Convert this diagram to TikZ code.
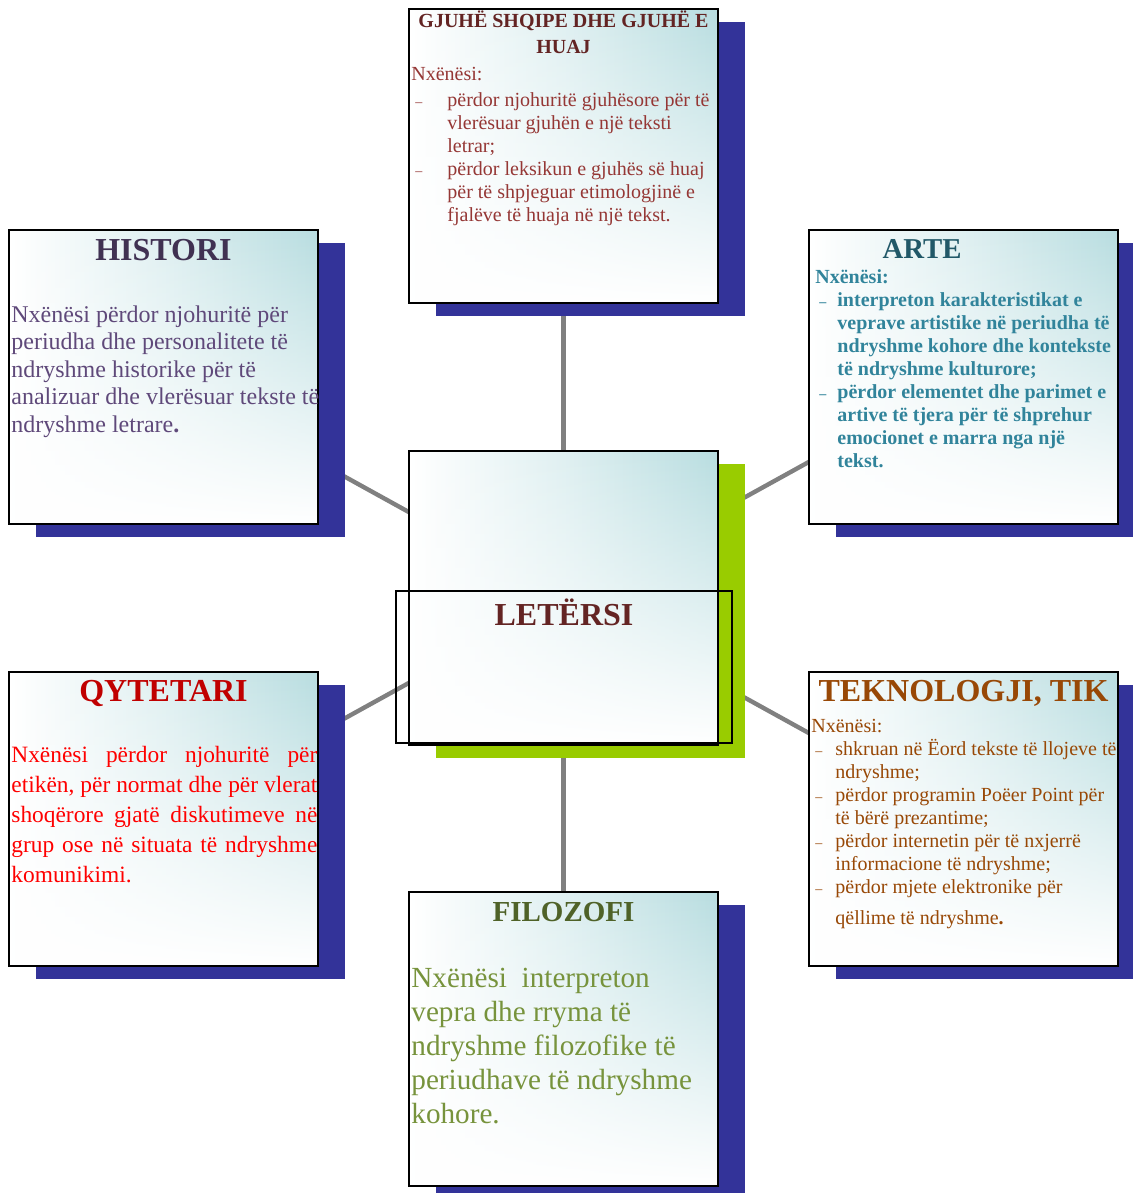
\documentclass[tikz,border=0pt]{standalone}
\usepackage{fontspec}
\setmainfont{Liberation Serif}
\usetikzlibrary{shadows,backgrounds,positioning,fadings}

\definecolor{shblue}{RGB}{51,51,153}
\definecolor{limeg}{RGB}{153,204,0}
\definecolor{boxteal}{RGB}{184,221,224}
\definecolor{conngray}{RGB}{128,128,128}
\definecolor{histT}{HTML}{403152}
\definecolor{histB}{HTML}{5F497A}
\definecolor{gjT}{HTML}{632423}
\definecolor{gjB}{HTML}{953735}
\definecolor{arteT}{HTML}{215868}
\definecolor{arteB}{HTML}{31849B}
\definecolor{qytT}{HTML}{C00000}
\definecolor{qytB}{HTML}{FF0000}
\definecolor{tekT}{HTML}{984806}
\definecolor{filoT}{HTML}{4F6228}
\definecolor{filoB}{HTML}{77933C}

\tikzfading[name=lowwhite,top color=transparent!100,middle color=transparent!80,bottom color=transparent!0]

\newcommand{\setfs}[2]{\fontsize{#1}{#2}\selectfont}
\newcommand{\dashitem}[1]{\makebox[#1][l]{\hspace{2pt}{\scriptsize\textendash}}}
\newcommand{\dashgap}[1]{\hspace*{#1}}
% first line of the box sits on the node's base
\newcommand{\leftlines}[1]{\parbox[t]{170pt}{\raggedright #1}}
\newcommand{\justlines}[1]{\parbox[t]{153pt}{#1}}

\begin{document}
\begin{tikzpicture}[x=0.5pt,y=-0.5pt,
	box/.style={draw,line width=1pt,minimum width=154.5pt,minimum height=147pt,inner sep=0pt,
		left color=white,right color=boxteal,middle color=boxteal!45,
		path picture={\fill[white,path fading=lowwhite] (path picture bounding box.south west) rectangle (path picture bounding box.north east);},
		drop shadow={shadow xshift=13.5pt,shadow yshift=-6.5pt,fill=#1,opacity=1}},
	box/.default=shblue,
	conn/.style={conngray,line width=2.2pt},
	ttl/.style={anchor=base,inner sep=0pt,font=\bfseries\setfs{#1}{13pt}},
	txt/.style={anchor=base west,inner sep=0pt}]
	\useasboundingbox (0,0) rectangle (1133,1193);
	
	% boxes
	\node[box] (gj) at (563.5,156) {};
	\node[box] (hist) at (163.5,376.5) {};
	\node[box] (arte) at (963.5,376.5) {};
	\node[box=limeg] (let) at (563.5,597.5) {};
	\node[box] (qyt) at (163.5,818.5) {};
	\node[box] (tek) at (963.5,818.5) {};
	\node[box] (filo) at (563.5,1039) {};
	\node[draw,line width=1pt,minimum width=168pt,minimum height=76pt] (letframe) at (564,667) {};
	
	% connectors
	\begin{scope}[on background layer]
		\foreach \n in {gj,hist,arte,qyt,tek,filo}
			\draw[conn] (let.center) -- (\n.center);
	\end{scope}
	
	% center
	\node[ttl=16,text=gjT] (letttl) at (564,625) {LETËRSI};
	
	% gjuhe
	\node[ttl=10,text=gjT] (gjttl) at (563.5,28) {\parbox[t]{160pt}{\centering GJUHË SHQIPE DHE GJUHË E\\HUAJ}};
	\node[txt,text=gjB,font=\setfs{10}{11.5pt}] (gjtxt) at (411,81) {\leftlines{Nxënësi:\\[1.5pt]
		\dashitem{18pt}përdor njohuritë gjuhësore për të\\
		\dashgap{18pt}vlerësuar gjuhën e një teksti\\
		\dashgap{18pt}letrar;\\
		\dashitem{18pt}përdor leksikun e gjuhës së huaj\\
		\dashgap{18pt}për të shpjeguar etimologjinë e\\
		\dashgap{18pt}fjalëve të huaja në një tekst.}};
	
	% histori
	\node[ttl=16,text=histT] (histttl) at (163.5,260) {HISTORI};
	\node[txt,text=histB,font=\setfs{12}{13.75pt}] (histtxt) at (11,322) {\leftlines{Nxënësi përdor njohuritë për\\
		periudha dhe personalitete të\\
		ndryshme historike për të\\
		analizuar dhe vlerësuar tekste të\\
		ndryshme letrare\textbf{.}}};
	
	% arte
	\node[ttl=14.4,text=arteT] (artettl) at (922,258) {ARTE};
	\node[txt,text=arteB,font=\bfseries\setfs{10}{11.5pt}] (artetxt) at (815,283) {\leftlines{Nxënësi:\\
		\dashitem{11pt}interpreton karakteristikat e\\
		\dashgap{11pt}veprave artistike në periudha të\\
		\dashgap{11pt}ndryshme kohore dhe kontekste\\
		\dashgap{11pt}të ndryshme kulturore;\\
		\dashitem{11pt}përdor elementet dhe parimet e\\
		\dashgap{11pt}artive të tjera për të shprehur\\
		\dashgap{11pt}emocionet e marra nga një\\
		\dashgap{11pt}tekst.}};
	
	% qytetari
	\node[ttl=16,text=qytT] (qytttl) at (163.5,701) {QYTETARI};
	\node[txt,text=qytB,font=\setfs{11.7}{15pt}] (qyttxt) at (11,762)
		{\justlines{Nxënësi përdor njohuritë për\linebreak
		etikën, për normat dhe për vlerat\linebreak
		shoqërore gjatë diskutimeve në\linebreak
		grup ose në situata të ndryshme\linebreak
		komunikimi.}};
	
	% teknologji
	\node[ttl=16,text=tekT] (tekttl) at (963.5,701) {TEKNOLOGJI, TIK};
	\node[txt,text=tekT,font=\setfs{10}{11.5pt}] (tektxt) at (811,732) {\leftlines{Nxënësi:\\
		\dashitem{12pt}shkruan në Ëord tekste të llojeve të\\
		\dashgap{12pt}ndryshme;\\
		\dashitem{12pt}përdor programin Poëer Point për\\
		\dashgap{12pt}të bërë prezantime;\\
		\dashitem{12pt}përdor internetin për të nxjerrë\\
		\dashgap{12pt}informacione të ndryshme;\\
		\dashitem{12pt}përdor mjete elektronike për\\[4pt]
		\dashgap{12pt}qëllime të ndryshme\textbf{.}}};
	
	% filozofi
	\node[ttl=14.5,text=filoT] (filottl) at (563.5,921) {FILOZOFI};
	\node[txt,text=filoB,font=\setfs{14.6}{17pt}] (filotxt) at (411,987) {\leftlines{Nxënësi\ \ interpreton\\
		vepra dhe rryma të\\
		ndryshme filozofike të\\
		periudhave të ndryshme\\
		kohore.}};
\end{tikzpicture}
\end{document}
